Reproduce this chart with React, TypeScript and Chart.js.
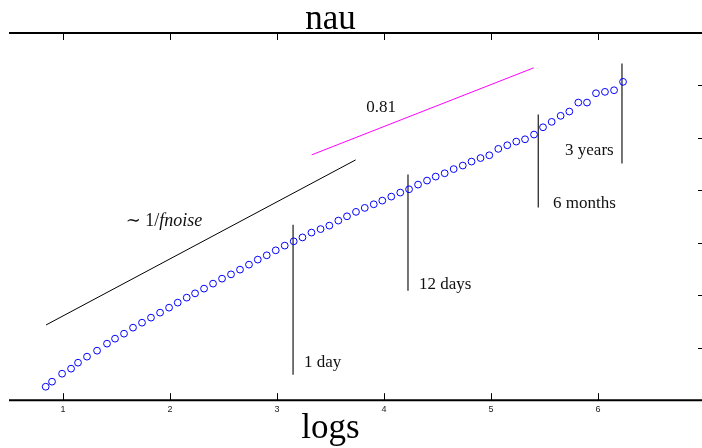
import React, { useEffect, useRef } from "react";
import { Chart, registerables } from "chart.js";

Chart.register(...registerables);

// ---- data ----
const xTicks = [1, 2, 3, 4, 5, 6];
const yTicks = [1, 2, 3, 4, 5, 6];

const logScale = [
  0.838, 0.897, 0.991, 1.075, 1.14, 1.224, 1.318, 1.411, 1.486, 1.57, 1.654,
  1.738, 1.822, 1.907, 1.991, 2.072, 2.156, 2.234, 2.318, 2.402, 2.486, 2.57,
  2.654, 2.738, 2.82, 2.904, 2.988, 3.072, 3.156, 3.238, 3.322, 3.407, 3.489,
  3.573, 3.654, 3.738, 3.82, 3.904, 3.984, 4.068, 4.152, 4.234, 4.318, 4.402,
  4.483, 4.567, 4.651, 4.736, 4.818, 4.902, 4.984, 5.068, 5.152, 5.236, 5.318,
  5.402, 5.486, 5.567, 5.651, 5.732, 5.816, 5.897, 5.981, 6.065, 6.15, 6.234,
];
const logFluct = [
  0.257, 0.353, 0.505, 0.601, 0.715, 0.83, 0.944, 1.078, 1.173, 1.268, 1.383,
  1.478, 1.574, 1.669, 1.764, 1.86, 1.955, 2.037, 2.127, 2.222, 2.317, 2.399,
  2.489, 2.584, 2.68, 2.762, 2.857, 2.947, 3.029, 3.103, 3.195, 3.262, 3.328,
  3.424, 3.506, 3.59, 3.666, 3.735, 3.805, 3.881, 3.958, 4.021, 4.11, 4.187,
  4.263, 4.326, 4.406, 4.473, 4.549, 4.616, 4.669, 4.791, 4.86, 4.93, 4.974,
  5.064, 5.203, 5.306, 5.421, 5.503, 5.674, 5.674, 5.852, 5.878, 5.909, 6.069,
];

const noiseLineX = [0.841, 3.735];
const noiseLineY = [1.434, 4.581];
const fitLineX = [3.324, 5.399];
const fitLineY = [4.677, 6.336];

const markerLabels = ["1 day", "12 days", "6 months", "3 years"];
const markerX = [3.15, 4.224, 5.442, 6.224];
const markerTop = [3.347, 4.301, 5.445, 6.418];
const markerBottom = [0.486, 2.088, 3.672, 4.511];
const markerLabelX = [3.252, 4.327, 5.579, 5.692];
const markerLabelY = [0.715, 2.203, 3.748, 4.759];

const fitLabel = "0.81";
const fitLabelPos = [3.972, 5.579];
const noiseLabelPos = [1.944, 3.405];

const titleText = "nau";
const xTitleText = "logs";
const titleCenterX = 3.5;

const SERIF = "'Liberation Serif', 'DejaVu Serif', serif";

const decorPlugin = {
  id: "decor",
  afterDraw(chart: any) {
    const { ctx, chartArea } = chart;
    const xs = chart.scales.x;
    const ys = chart.scales.y;
    const { left, right, top, bottom } = chartArea;
    ctx.save();
    // axis lines
    ctx.strokeStyle = "#000";
    ctx.lineWidth = 2;
    ctx.beginPath();
    ctx.moveTo(left - 3, top);
    ctx.lineTo(right, top);
    ctx.moveTo(left - 3, bottom);
    ctx.lineTo(right, bottom);
    ctx.stroke();
    // inward ticks
    ctx.lineWidth = 1;
    ctx.beginPath();
    xTicks.forEach((v) => {
      const px = Math.round(xs.getPixelForValue(v)) + 0.5;
      ctx.moveTo(px, bottom);
      ctx.lineTo(px, bottom - 7);
      ctx.moveTo(px, top);
      ctx.lineTo(px, top + 7);
    });
    yTicks.forEach((v) => {
      const py = Math.round(ys.getPixelForValue(v)) + 0.5;
      ctx.moveTo(right, py);
      ctx.lineTo(right - 7, py);
    });
    ctx.stroke();

    // titles
    const cx = xs.getPixelForValue(titleCenterX);
    ctx.fillStyle = "#000";
    ctx.textAlign = "center";
    ctx.textBaseline = "alphabetic";
    ctx.font = `35px ${SERIF}`;
    ctx.fillText(titleText, cx, top - 4);
    ctx.fillText(xTitleText, cx, bottom + 38);

    // marker labels
    ctx.font = `17px ${SERIF}`;
    ctx.textAlign = "left";
    ctx.textBaseline = "middle";
    ctx.fillStyle = "#111";
    markerLabels.forEach((t, i) => {
      ctx.fillText(t, xs.getPixelForValue(markerLabelX[i]), ys.getPixelForValue(markerLabelY[i]));
    });
    ctx.textAlign = "center";
    ctx.fillText(fitLabel, xs.getPixelForValue(fitLabelPos[0]), ys.getPixelForValue(fitLabelPos[1]));

    // ~1/f noise label
    const partA = "\u223C 1/";
    const partB = "fnoise";
    ctx.font = `18px ${SERIF}`;
    const wA = ctx.measureText(partA).width;
    ctx.font = `italic 18px ${SERIF}`;
    const wB = ctx.measureText(partB).width;
    const nx = xs.getPixelForValue(noiseLabelPos[0]) - (wA + wB) / 2;
    const ny = ys.getPixelForValue(noiseLabelPos[1]);
    ctx.textAlign = "left";
    ctx.font = `18px ${SERIF}`;
    ctx.fillText(partA, nx, ny);
    ctx.font = `italic 18px ${SERIF}`;
    ctx.fillText(partB, nx + wA, ny);
    ctx.restore();
  },
};

export default function App() {
  const ref = useRef<HTMLCanvasElement | null>(null);

  useEffect(() => {
    if (!ref.current) return;
    const pts = logScale.map((x, i) => ({ x, y: logFluct[i] }));
    const seg = (xa: number[], ya: number[]) => xa.map((x, i) => ({ x, y: ya[i] }));
    const markerSets = markerX.map((x, i) => ({
      label: markerLabels[i],
      data: [
        { x, y: markerBottom[i] },
        { x, y: markerTop[i] },
      ],
      showLine: true,
      borderColor: "#3a3a3a",
      borderWidth: 1.4,
      pointRadius: 0,
    }));
    const chart = new Chart(ref.current, {
      type: "scatter",
      data: {
        datasets: [
          {
            label: "nau",
            data: pts,
            showLine: false,
            pointStyle: "circle",
            pointRadius: 3.4,
            pointBorderWidth: 1,
            borderColor: "#0000ff",
            pointBorderColor: "#0000ff",
            pointBackgroundColor: "rgba(0,0,0,0)",
            backgroundColor: "rgba(0,0,0,0)",
          },
          {
            label: "1/f",
            data: seg(noiseLineX, noiseLineY),
            showLine: true,
            borderColor: "#000",
            borderWidth: 1,
            pointRadius: 0,
          },
          {
            label: "0.81",
            data: seg(fitLineX, fitLineY),
            showLine: true,
            borderColor: "#ff00ff",
            borderWidth: 1,
            pointRadius: 0,
          },
          ...markerSets,
        ],
      },
      options: {
        responsive: false,
        animation: false,
        events: [],
        layout: { padding: { left: 12, top: 33, right: 7, bottom: 29 } },
        plugins: {
          legend: { display: false },
          title: { display: false },
          tooltip: { enabled: false },
        },
        scales: {
          x: {
            type: "linear",
            position: "bottom",
            min: 0.523,
            max: 7.0,
            afterBuildTicks: (axis: any) => {
              axis.ticks = xTicks.map((v) => ({ value: v }));
            },
            grid: { display: false, drawTicks: false },
            border: { display: false },
            ticks: {
              font: { family: "'Liberation Sans', Arial, sans-serif", size: 9 },
              color: "#222",
              padding: 4,
              maxRotation: 0,
              autoSkip: false,
            },
          },
          y: {
            type: "linear",
            min: 0,
            max: 7,
            display: false,
          },
        },
      },
      plugins: [decorPlugin],
    } as any);
    return () => chart.destroy();
  }, []);

  return (
    <div
      style={{
        position: "fixed",
        left: 0,
        top: 0,
        width: 702,
        height: 448,
        overflow: "hidden",
        background: "#fff",
      }}
    >
      <canvas ref={ref} width={712} height={448} style={{ display: "block" }} />
    </div>
  );
}
